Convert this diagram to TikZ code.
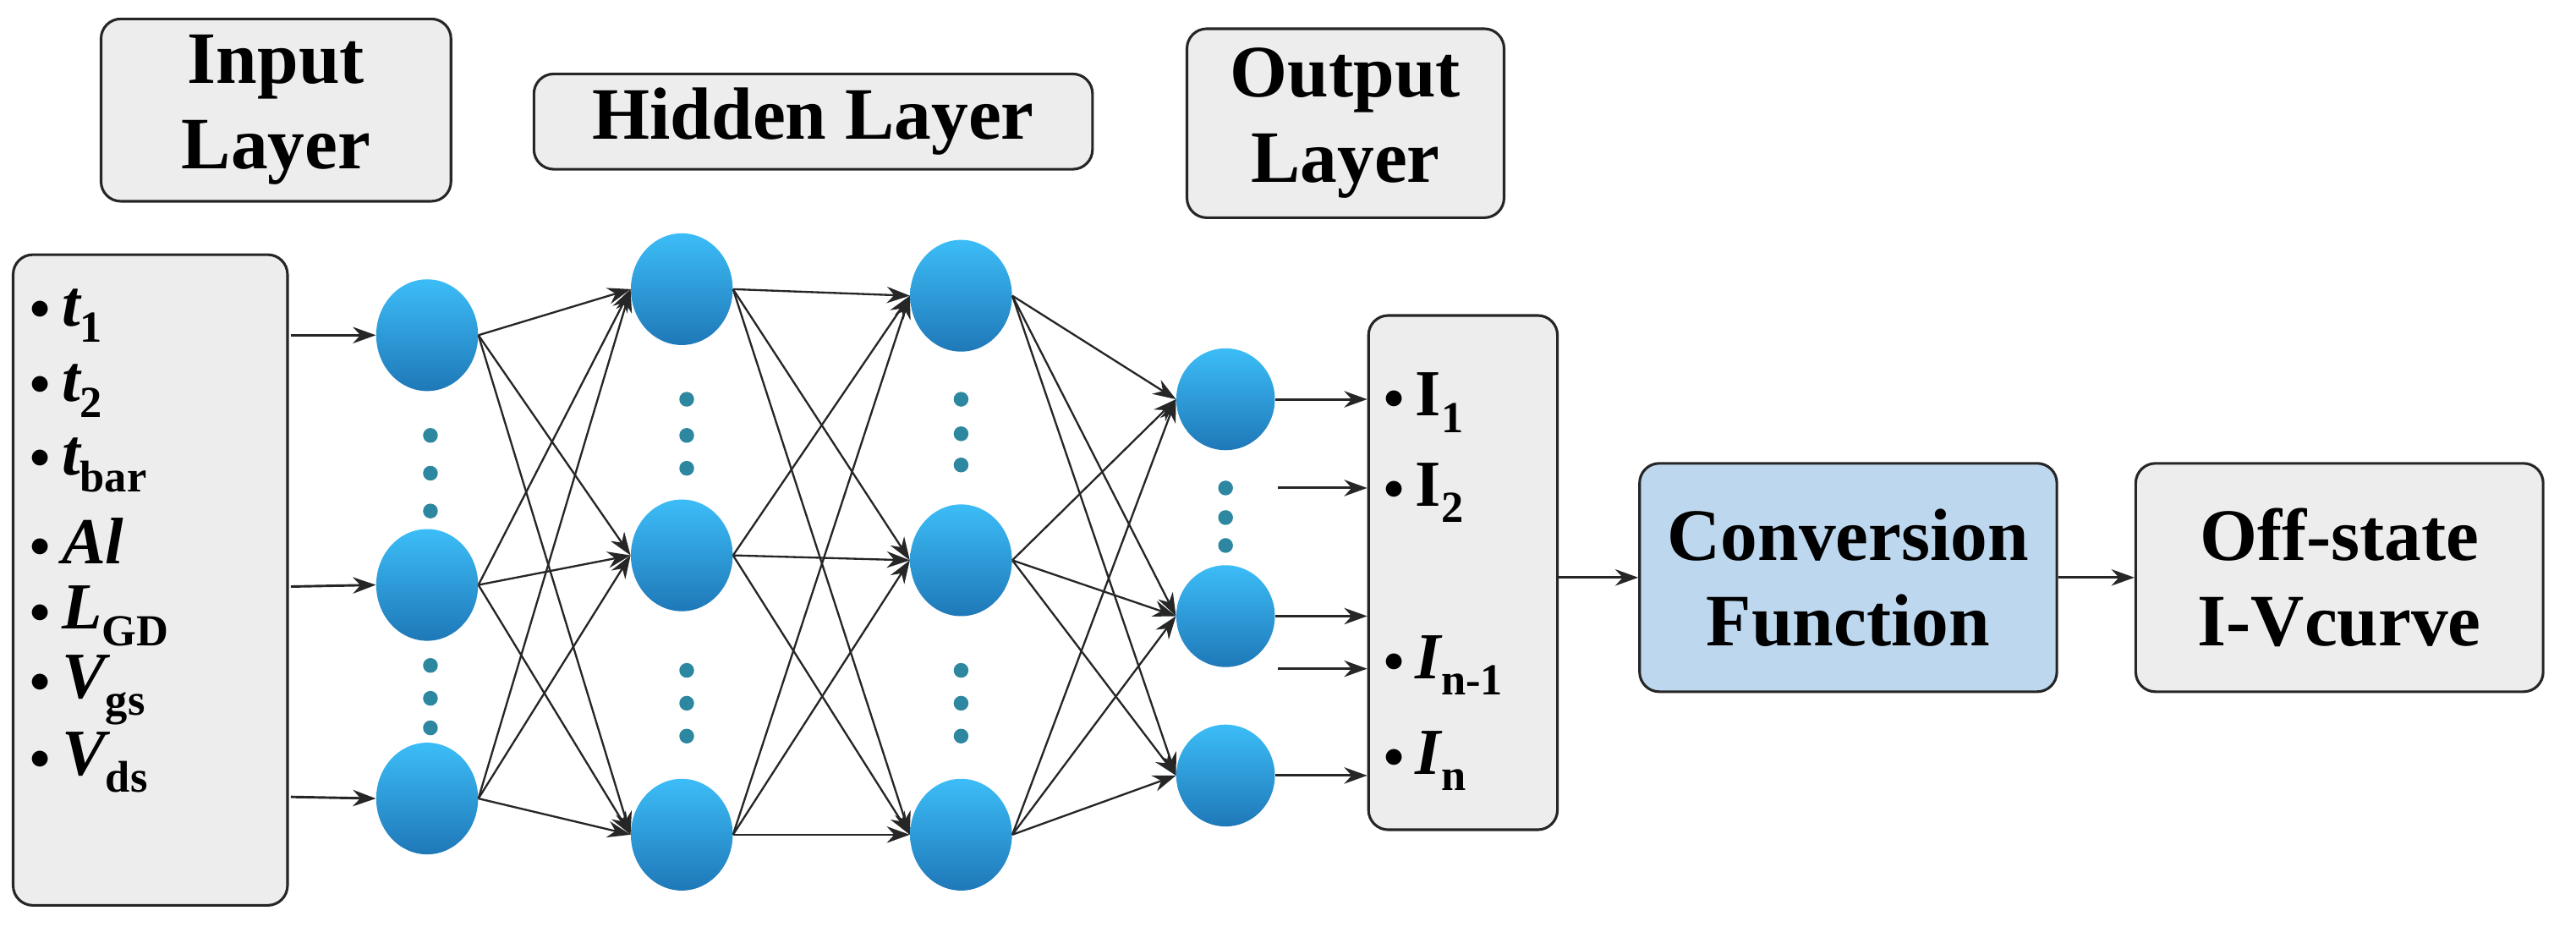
\documentclass[tikz,border=0pt]{standalone}
\usepackage{fontspec}
\setmainfont{Liberation Serif}
\usetikzlibrary{arrows.meta,shapes.geometric}
\definecolor{boxg}{HTML}{EDEDED}
\definecolor{boxb}{HTML}{BDD7EE}
\definecolor{dotc}{HTML}{2E87A0}
\definecolor{ntop}{HTML}{3CBDF7}
\definecolor{nbot}{HTML}{1F78B8}
\newcommand{\mysub}[2]{#1\raisebox{-0.25em}{\upshape\fontsize{27}{27}\selectfont #2}}
\newcommand{\mybul}{\raisebox{0.1em}{\fontsize{28}{28}\selectfont$\bullet$}\hspace{7pt}}
\begin{document}
\begin{tikzpicture}[x=1pt,y=-1pt,
  box/.style={draw=black!85,line width=1.6pt,rounded corners=12pt,fill=boxg,align=center,font=\fontsize{45}{52}\selectfont\bfseries},
  neu/.style={ellipse,minimum width=62pt,minimum height=68pt,inner sep=0,top color=ntop,bottom color=nbot,draw=none},
  oneu/.style={neu,minimum width=60pt,minimum height=62pt},
  ar/.style={-{Stealth[length=14pt,width=10pt]},line width=1.5pt,draw=black!85},
  ln/.style={-{Stealth[length=14pt,width=10pt]},line width=1.2pt,draw=black!85},
  dt/.style={circle,fill=dotc,minimum width=7pt,minimum height=9pt,inner sep=0},
  it/.style={anchor=west,font=\fontsize{40}{44}\selectfont\bfseries,inner sep=0}]
\useasboundingbox (0,0) rectangle (1568,564);
% headers
\node[box,minimum width=213pt,minimum height=111pt] (hin) at (168,67) {Input\\Layer};
\node[box,minimum width=340pt,minimum height=58pt] (hhid) at (495,74) {Hidden Layer};
\node[box,minimum width=193pt,minimum height=115pt] (hout) at (819,75) {Output\\Layer};
% input list
\node[box,minimum width=167pt,minimum height=396pt] (inbox) at (91.5,353) {};
\foreach \y/\t in {192/{\mysub{\itshape t}{1}},238/{\mysub{\itshape t}{2}},283/{\mysub{\itshape t}{bar}},329/{\itshape Al},375/{\mysub{\itshape L}{GD}},420/{\mysub{\itshape V}{gs}},464/{\mysub{\itshape V}{ds}}}
  \node[it] at (18,\y) {\mybul\t};
% neurons
\foreach \n/\x/\y in {a1/260/204,a2/260/356,a3/260/486,b1/415/176,b2/415/338,b3/415/508,c1/585/180,c2/585/341,c3/585/508}
  \node[neu] (\n) at (\x,\y) {};
\foreach \n/\y in {o1/243,o2/375,o3/472}
  \node[oneu] (\n) at (746,\y) {};
% dots
\foreach \x/\y in {262/265,262/288,262/311,262/405,262/425,262/443,418/243,418/265,418/285,418/408,418/428,418/448,585/243,585/264,585/283,585/408,585/428,585/448,746/297,746/315,746/332,876/335,876/353,876/371}
  \node[dt] at (\x,\y) {};
% input arrows
\foreach \i/\y in {1/204,2/357,3/485}{
  \coordinate (s\i) at (177,\y);
  \draw[ar] (s\i) -- (a\i.west);}
% full connections
\foreach \i in {1,2,3}{\foreach \j in {1,2,3}{
  \draw[ln] (a\i.east) -- (b\j.west);
  \draw[ln] (b\i.east) -- (c\j.west);
  \draw[ln] (c\i.east) -- (o\j.west);}}
% output box
\node[box,minimum width=115pt,minimum height=313pt] (obox) at (890.5,348.5) {};
\foreach \y/\t in {245/{\mysub{I}{1}},300/{\mysub{I}{2}},405/{\mysub{\itshape I}{n-1}},463/{\mysub{\itshape I}{n}}}
  \node[it] at (842,\y) {\mybul\t};
\foreach \n/\y in {o1/243,o2/375,o3/472}
  \draw[ar] (\n.east) -- (obox.west|-0,\y);
\coordinate (f1) at (778,297);
\coordinate (f2) at (778,407);
\draw[ar] (f1) -- (obox.west|-f1);
\draw[ar] (f2) -- (obox.west|-f2);
% conversion
\node[box,fill=boxb,minimum width=254pt,minimum height=139pt] (conv) at (1125,351.5) {Conversion\\Function};
\node[box,minimum width=248pt,minimum height=139pt] (off) at (1424,351.5) {Off-state\\I-Vcurve};
\draw[ar] (obox.east|-conv) -- (conv.west);
\draw[ar] (conv.east) -- (off.west);
\end{tikzpicture}
\end{document}
